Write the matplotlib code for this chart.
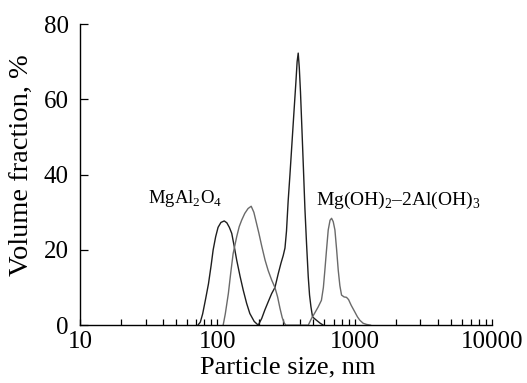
import matplotlib
matplotlib.use("Agg")
import matplotlib.pyplot as plt
from matplotlib.ticker import LogLocator, FixedLocator, NullFormatter

plt.rcParams["font.family"] = ["Liberation Serif", "DejaVu Serif"]
plt.rcParams["mathtext.fontset"] = "custom"
plt.rcParams["mathtext.rm"] = "Liberation Serif"

# dark curve (two peaks: ~110 nm and ~390 nm)
sizes_dark = [72, 75, 78, 82, 86, 90, 93, 97, 101, 106, 112, 117, 122, 127, 132,
              138, 146, 154, 163, 172, 185, 198, 210, 221, 234, 248, 262, 277,
              290, 301, 310, 318, 327, 337, 348, 360, 372, 380, 387, 394, 402,
              412, 422, 433, 445, 458, 468, 479, 492, 510, 530, 560, 590]
values_dark = [0, 0.8, 3, 7, 11, 16, 20, 23.5, 26, 27.3, 27.7, 27.2, 26, 24.4, 21.2,
               17.3, 13, 9.3, 5.8, 3.1, 1, 0, 1.8, 4, 6.2, 8.4, 10, 13.7,
               16.5, 18.5, 20.5, 25, 33, 40, 48, 56.4, 64.4, 70, 72.3, 68.5, 62,
               52, 42, 31, 21.7, 12.8, 8, 4.9, 2.2, 1.7, 1.2, 0.5, 0]

# gray curve (peaks ~175 nm and ~680 nm)
sizes_gray = [110, 114, 120, 125, 130, 134, 138, 144, 150, 158, 167, 176, 184, 192,
              200, 210, 222, 234, 248, 262, 274, 285, 296, 306, 314, 458, 484, 510,
              540, 571, 590, 605, 622, 640, 660, 677, 696, 716, 737, 757, 778, 800,
              835, 869, 900, 940, 1000, 1045, 1088, 1150, 1216, 1300]
values_gray = [0, 3, 8.4, 14, 19, 21.3, 23.5, 26.2, 27.9, 29.7, 31, 31.6, 30, 27.2,
               24.5, 21, 17.3, 14.5, 12, 10, 7.5, 4.5, 2, 0.6, 0, 0, 1.8, 3.2,
               4.8, 6.6, 10, 14.6, 20, 25.3, 27.9, 28.4, 27.5, 25.3, 20, 14.6, 10.5, 8,
               7.5, 7.4, 6.8, 5.3, 3.5, 2.2, 1.3, 0.5, 0.2, 0]

x_ticks = [10, 100, 1000, 10000]
x_tick_labels = ["10", "100", "1000", "10000"]
y_ticks = [0, 20, 40, 60, 80]

fig = plt.figure(figsize=(5.27, 3.83), dpi=100)
ax = fig.add_axes([0.152, 0.151, 0.782, 0.786])

ax.plot(sizes_dark, values_dark, color="#1e1e1e", lw=1.0)
ax.plot(sizes_gray, values_gray, color="#6a6a6a", lw=1.0)

ax.set_xscale("log")
ax.set_xlim(10, 10000)
ax.set_ylim(0, 80)

ax.xaxis.set_major_locator(FixedLocator(x_ticks))
ax.set_xticklabels(x_tick_labels)
ax.xaxis.set_minor_locator(LogLocator(base=10, subs=range(2, 10)))
ax.xaxis.set_minor_formatter(NullFormatter())
ax.set_yticks(y_ticks)

ax.spines["top"].set_visible(False)
ax.spines["right"].set_visible(False)
for s in ("left", "bottom"):
    ax.spines[s].set_linewidth(1.0)

ax.tick_params(axis="x", which="both", direction="in", length=4.5, width=0.9,
               labelsize=18, pad=4)
ax.tick_params(axis="y", which="major", direction="in", length=5.5, width=0.9,
               labelsize=18, pad=8)

ax.set_xlabel("Particle size, nm", fontsize=19)
ax.set_ylabel("Volume fraction, %", fontsize=20.5)
ax.xaxis.set_label_coords(0.505, -0.105)
ax.yaxis.set_label_coords(-0.112, 0.53)

ax.text(31, 32.5, r"MgAl$_\mathregular{2}$O$_\mathregular{4}$", fontsize=13.5)
ax.text(520, 32, r"Mg(OH)$_\mathregular{2}$–2Al(OH)$_\mathregular{3}$", fontsize=14)

fig.savefig("out.png", dpi=100)
